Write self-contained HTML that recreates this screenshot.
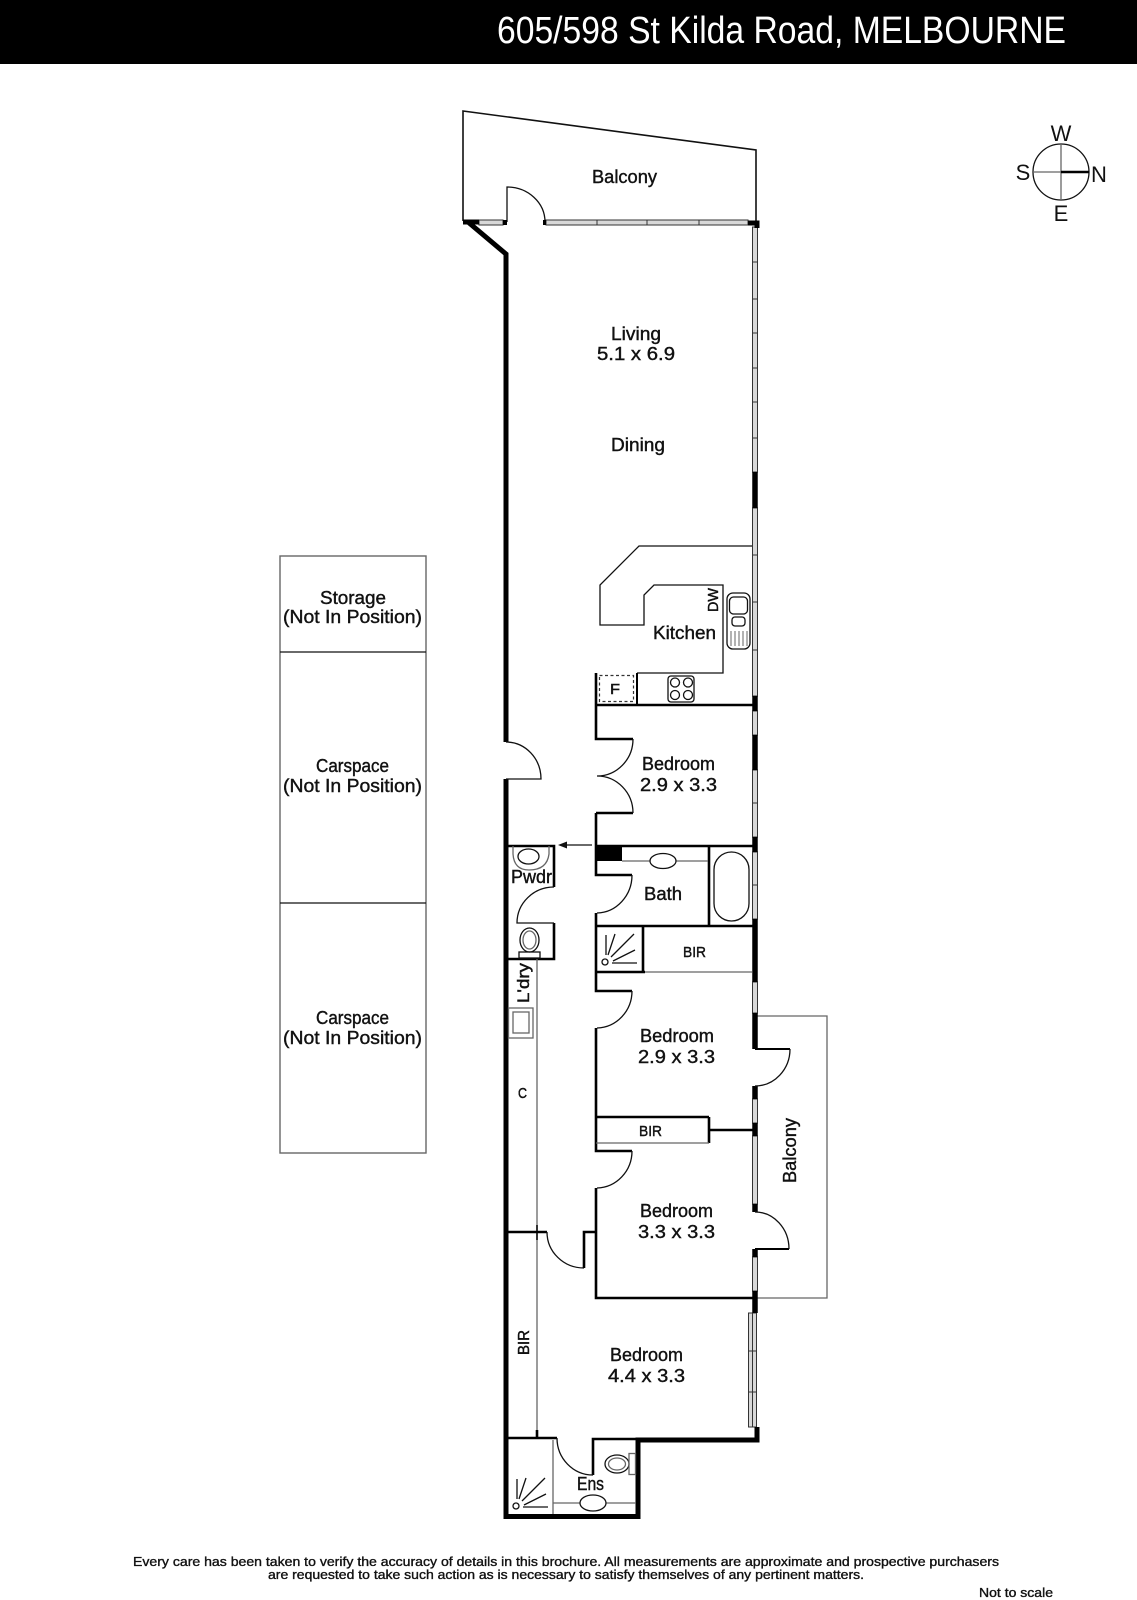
<!DOCTYPE html>
<html><head><meta charset="utf-8"><title>605/598 St Kilda Road, MELBOURNE</title>
<style>
html,body{margin:0;padding:0;background:#fff;width:1137px;height:1600px;overflow:hidden}
svg{display:block}
text{font-family:"Liberation Sans",sans-serif;fill:#111;stroke:#111;stroke-width:.4}
.r{font-size:18px}.s{font-size:15px;stroke-width:.45}.f{font-size:12.5px;stroke-width:.35}.c{font-size:22px;stroke-width:0;text-anchor:middle}
.t{fill:none;stroke:#111;stroke-width:1.3}
.g{fill:none;stroke:#666;stroke-width:1.3}
.w2{fill:none;stroke:#000;stroke-width:2.6}
.w5{fill:none;stroke:#000;stroke-width:5}
.win{fill:#d8d8d8;stroke:#333;stroke-width:1}
</style></head><body>
<svg width="1137" height="1600" viewBox="0 0 1137 1600" xmlns="http://www.w3.org/2000/svg">
<rect width="1137" height="1600" fill="#fff"/>
<rect width="1137" height="64" fill="#000"/>
<text x="497" y="43" font-size="38" textLength="569" lengthAdjust="spacingAndGlyphs" style="fill:#fff;stroke:none">605/598 St Kilda Road, MELBOURNE</text>

<!-- compass -->
<circle cx="1061" cy="172" r="28" class="t" stroke="#333"/>
<path d="M1061 144V200M1033 172H1061" class="g"/>
<path d="M1061 172H1089" class="w2" style="stroke-width:2.5"/>
<text class="c" x="1061" y="141">W</text><text class="c" x="1023" y="180">S</text><text class="c" x="1099" y="182">N</text><text class="c" x="1061" y="221">E</text>

<!-- storage / carspaces -->
<rect x="280" y="556" width="146" height="597" class="g" style="stroke-width:1.4"/>
<path d="M280 652H426M280 903H426" class="t"/>
<text class="r" x="320" y="604" textLength="66" lengthAdjust="spacingAndGlyphs">Storage</text>
<text class="r" x="283" y="623" textLength="139" lengthAdjust="spacingAndGlyphs">(Not In Position)</text>
<text class="r" x="316" y="772" textLength="73" lengthAdjust="spacingAndGlyphs">Carspace</text>
<text class="r" x="283" y="792" textLength="139" lengthAdjust="spacingAndGlyphs">(Not In Position)</text>
<text class="r" x="316" y="1024" textLength="73" lengthAdjust="spacingAndGlyphs">Carspace</text>
<text class="r" x="283" y="1044" textLength="139" lengthAdjust="spacingAndGlyphs">(Not In Position)</text>

<!-- top balcony -->
<path d="M463 221V111L756 150V221" fill="none" stroke="#111" stroke-width="1.6"/>
<path d="M507 222V187A38 35 0 0 1 545 222" class="t"/>

<!-- side balcony -->
<path d="M757 1016H827V1298H757" class="g"/>

<!-- windows -->
<g>
<rect class="win" x="479" y="220" width="24" height="5"/>
<rect class="win" x="546" y="220" width="202" height="5"/>
<rect class="win" x="752.5" y="227" width="5" height="245"/>
<rect class="win" x="752.5" y="508" width="5" height="188"/>
<rect class="win" x="752.5" y="711" width="5" height="24"/>
<rect class="win" x="752.5" y="770" width="5" height="67"/>
<rect class="win" x="752.5" y="852" width="5" height="67"/>
<rect class="win" x="752.5" y="982" width="5" height="31"/>
<rect class="win" x="752.5" y="1099" width="5" height="24"/>
<rect class="win" x="752.5" y="1136" width="5" height="68"/>
<rect class="win" x="752.5" y="1257" width="5" height="34"/>
<rect class="win" x="748.5" y="1313" width="8" height="114"/>
<path d="M597 220v5M647 220v5M699 220v5M752 262h6M752 299h6M752 333h6M752 368h6M752 402h6M752 438h6M752 555h6M752 602h6M752 650h6M752 803h6M752 885h6M749 1351h8M749 1392h8M752.5 1313v114" stroke="#333" stroke-width="1" fill="none"/>
</g>

<!-- outer thick walls -->
<path d="M463 222H479" class="w5" style="stroke-width:5"/>
<path d="M503 222.500H507M543 222.500H546M748 223H757V228" class="w5"/>
<path d="M468 222L506 254V742M506 779V1516.500H638V1440H757V1427" class="w5" stroke-linejoin="miter"/>
<path d="M755 472V508M755 696V711M755 735V770M755 837V852M755 919V982M755 1013V1049M755 1086V1099M755 1123V1136M755 1204V1212M755 1249V1257M755 1291V1313" class="w5" style="stroke-width:5.500"/>

<!-- balcony doors -->
<path d="M755 1049H790M755 1249H789" class="w2" style="stroke-width:2"/>
<path d="M790 1049A35 37 0 0 1 755 1086" class="t"/>
<path d="M755 1212A34 37 0 0 1 789 1249" class="t"/>

<!-- main door -->
<path d="M506 742A35 37 0 0 1 541 779H506" class="t"/>

<!-- kitchen -->
<path d="M752 546H639L600 585V625H644V595L654 585H723V673H637" class="t" stroke="#333"/>
<path d="M637 673V705" class="w2" style="stroke-width:2"/>
<rect x="599.500" y="675.500" width="34" height="26" fill="none" stroke="#333" stroke-width="1.200" stroke-dasharray="3 2.500"/>
<text class="s" x="610" y="694" textLength="10" lengthAdjust="spacingAndGlyphs">F</text>
<rect x="668" y="676" width="26" height="26" rx="3" class="t" stroke="#333"/>
<circle cx="675" cy="682.500" r="4.500" class="t"/><circle cx="688" cy="682.500" r="4.500" class="t"/><circle cx="675" cy="695" r="4.500" class="t"/><circle cx="688" cy="695" r="4.500" class="t"/>
<rect x="727" y="593" width="23" height="56" rx="6" class="t"/>
<rect x="729.500" y="597" width="18" height="17" rx="4" class="t"/>
<rect x="732" y="617" width="13" height="9" rx="3" class="t"/>
<path d="M731 631V646M735 631V646M739 631V646M743 631V646M747 631V646" class="g" style="stroke-width:1"/>
<text class="s" transform="translate(718 612) rotate(-90)" textLength="24" lengthAdjust="spacingAndGlyphs">DW</text>
<text class="r" x="653" y="639" textLength="63" lengthAdjust="spacingAndGlyphs">Kitchen</text>

<!-- interior walls -->
<path d="M596 673V739H633M596 813H633M596 813V875H632M596 913V991H632M596 1028V1151H632M596 1188V1298H755" class="w2"/>
<path d="M596 705H755M596 846H755M709 846V926M596 926H755M643 926V972M596 972H645M709 1117V1143M596 1117H709M709 1130H755" class="w2"/>
<path d="M633 739A36 37 0 0 1 597 776A36 37 0 0 1 633 813" class="t"/>
<path d="M632 875A36 38 0 0 1 597 913" class="t"/>
<path d="M632 991A36 37 0 0 1 597 1028" class="t"/>
<path d="M632 1151A36 37 0 0 1 597 1188" class="t"/>
<path d="M645 972H752M596 1143H709" class="g"/>
<path d="M592 845H565" class="t" stroke-width="1"/><path d="M558 845L567 841.500V848.500Z" fill="#111"/>

<!-- bath -->
<rect x="596" y="846" width="26" height="15" fill="#000"/>
<path d="M622 861H650M676 861H708" class="g"/>
<ellipse cx="663" cy="861" rx="13" ry="7.500" class="t"/>
<rect x="714" y="852" width="35" height="69" rx="17.500" class="t"/>
<text class="r" x="644" y="900" textLength="38" lengthAdjust="spacingAndGlyphs">Bath</text>

<!-- shower 1 -->
<circle cx="605" cy="962" r="3" class="t"/>
<path d="M606 935V955M615 934L608 955M634 934L611 957M635 950L613 961M637 963H612" class="t" stroke-width="1"/>

<!-- powder -->
<path d="M506 846H554V887M554 923V959H506" class="w2"/>
<path d="M554 887A37 36 0 0 0 517 923H554" class="t"/>
<path d="M513 846V854Q514 870 529 870Q547 870 549 854V846" class="g"/>
<ellipse cx="528.500" cy="856.500" rx="10.500" ry="7.500" class="t"/>
<ellipse cx="529.500" cy="940" rx="9.500" ry="12" class="t"/>
<ellipse cx="529.500" cy="940" rx="6.500" ry="9" class="g"/>
<rect x="519" y="952" width="21" height="6" class="t"/>
<text class="r" x="511" y="883" textLength="41" lengthAdjust="spacingAndGlyphs">Pwdr</text>
<path d="M537 959V1438" class="g"/>
<rect x="508.500" y="1008" width="24.500" height="30" class="g"/>
<rect x="513" y="1012" width="16" height="21" class="g"/>
<text class="s" transform="translate(529 1003) rotate(-90)" textLength="40" lengthAdjust="spacingAndGlyphs" style="font-size:17px">L'dry</text>
<text class="s" x="518" y="1098" textLength="9" lengthAdjust="spacingAndGlyphs">C</text>

<!-- closet door -->
<path d="M506 1232H547" class="w2"/>
<path d="M537 1225V1240" class="w2" style="stroke-width:1.500"/>
<path d="M547 1232A37 36 0 0 0 584 1268" class="t"/>
<path d="M584 1268V1232H596" class="w2"/>

<!-- ensuite -->
<path d="M506 1438H557M593 1475V1439H638" class="w2"/>
<path d="M557 1438A36 37 0 0 0 593 1475" class="t"/>
<path d="M537 1430V1438" class="w2"/>
<path d="M553 1440V1514" class="g"/>
<path d="M553 1503H580M606 1503H636" class="g"/>
<ellipse cx="593" cy="1503" rx="13" ry="8" class="t"/>
<ellipse cx="617" cy="1464" rx="12" ry="9" class="t"/><ellipse cx="617" cy="1464" rx="8.500" ry="6" class="g"/>
<rect x="629" y="1453.500" width="6.500" height="21" class="g"/>
<circle cx="516" cy="1506" r="3" class="t"/>
<path d="M517 1479V1499M526 1478L519 1499M545 1478L522 1501M546 1494L524 1505M548 1507H523" class="t" stroke-width="1"/>
<text class="r" x="577" y="1490" textLength="27" lengthAdjust="spacingAndGlyphs">Ens</text>

<!-- room labels -->
<text class="r" x="592" y="183" textLength="65" lengthAdjust="spacingAndGlyphs">Balcony</text>
<text class="r" x="611" y="340" textLength="50" lengthAdjust="spacingAndGlyphs">Living</text>
<text class="r" x="597" y="360" textLength="78" lengthAdjust="spacingAndGlyphs">5.1 x 6.9</text>
<text class="r" x="611" y="451" textLength="54" lengthAdjust="spacingAndGlyphs">Dining</text>
<text class="r" x="642" y="770" textLength="73" lengthAdjust="spacingAndGlyphs">Bedroom</text>
<text class="r" x="640" y="791" textLength="77" lengthAdjust="spacingAndGlyphs">2.9 x 3.3</text>
<text class="s" x="683" y="957" textLength="23" lengthAdjust="spacingAndGlyphs">BIR</text>
<text class="r" x="640" y="1042" textLength="74" lengthAdjust="spacingAndGlyphs">Bedroom</text>
<text class="r" x="638" y="1063" textLength="77" lengthAdjust="spacingAndGlyphs">2.9 x 3.3</text>
<text class="s" x="639" y="1136" textLength="23" lengthAdjust="spacingAndGlyphs">BIR</text>
<text class="r" transform="translate(796 1183) rotate(-90)" textLength="65" lengthAdjust="spacingAndGlyphs">Balcony</text>
<text class="r" x="640" y="1217" textLength="73" lengthAdjust="spacingAndGlyphs">Bedroom</text>
<text class="r" x="638" y="1238" textLength="77" lengthAdjust="spacingAndGlyphs">3.3 x 3.3</text>
<text class="s" transform="translate(529 1355) rotate(-90)" textLength="25" lengthAdjust="spacingAndGlyphs" style="font-size:16px">BIR</text>
<text class="r" x="610" y="1361" textLength="73" lengthAdjust="spacingAndGlyphs">Bedroom</text>
<text class="r" x="608" y="1382" textLength="77" lengthAdjust="spacingAndGlyphs">4.4 x 3.3</text>

<!-- footer -->
<text class="f" x="133" y="1566" textLength="866" lengthAdjust="spacingAndGlyphs">Every care has been taken to verify the accuracy of details in this brochure.  All measurements are approximate and prospective purchasers</text>
<text class="f" x="268" y="1579" textLength="596" lengthAdjust="spacingAndGlyphs">are requested to take such action as is necessary to satisfy themselves of any pertinent matters.</text>
<text class="f" x="979" y="1597" textLength="74" lengthAdjust="spacingAndGlyphs">Not to scale</text>
</svg>
</body></html>
